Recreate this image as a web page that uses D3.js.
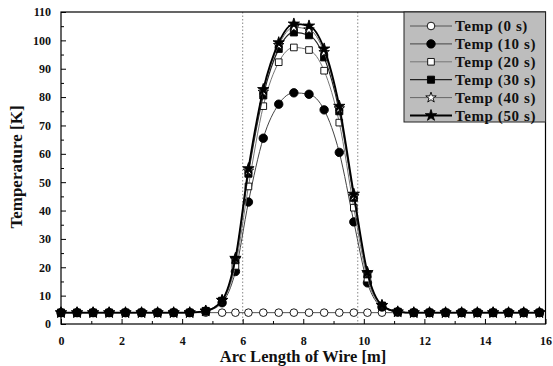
<!DOCTYPE html>
<html lang="en">
<head>
  <meta charset="UTF-8">
  <title>Temperature along wire</title>
  <script src="https://cdn.jsdelivr.net/npm/d3@7"></script>
  <style>
    body { margin: 0; background: #fff; }
    svg text { font-family: "Liberation Serif", "Times New Roman", serif; font-weight: bold; fill: #111; }
  </style>
</head>
<body>
<script>
  // node positions along the wire [m]
  const xNodes = [0, 0.53, 1.06, 1.59, 2.13, 2.66, 3.19, 3.72, 4.25, 4.78, 5.32, 5.76, 6.19, 6.68, 7.19, 7.69,
                  8.19, 8.69, 9.19, 9.67, 10.12, 10.6, 11.12, 11.65, 12.17, 12.7, 13.23, 13.75, 14.27, 14.78, 15.28, 15.8];

  const temp0  = [4,4,4,4,4,4,4,4,4, 4,4,4,4,4,4,4,4,4,4,4,4,4,4, 4,4,4,4,4,4,4,4,4];
  const temp10 = [4,4,4,4,4,4,4,4,4, 4.5,7.5,18.5,43,65.5,77.5,81.5,81,75.5,60.5,36,14.5,6,4.3, 4,4,4,4,4,4,4,4,4];
  const temp20 = [4,4,4,4,4,4,4,4,4, 4.6,8,20.5,48.5,76.8,92.3,97.5,96.6,89.3,71,41,16,6.3,4.3, 4,4,4,4,4,4,4,4,4];
  const temp30 = [4,4,4,4,4,4,4,4,4, 4.6,8.2,22.5,53,80.6,97,102.8,101.8,94,75,44.5,17.5,6.5,4.3, 4,4,4,4,4,4,4,4,4];
  const temp40 = [4,4,4,4,4,4,4,4,4, 4.6,8.3,22.8,54,81.8,98.3,104.6,103.8,95.8,76,45,17.8,6.5,4.3, 4,4,4,4,4,4,4,4,4];
  const temp50 = [4,4,4,4,4,4,4,4,4, 4.6,8.4,23.2,54.8,82.7,99.2,105.8,105.1,97,76.8,45.8,18.2,6.6,4.3, 4,4,4,4,4,4,4,4,4];

  const seriesNames = ["Temp (0 s)", "Temp (10 s)", "Temp (20 s)", "Temp (30 s)", "Temp (40 s)", "Temp (50 s)"];
  const xTicks = [0, 2, 4, 6, 8, 10, 12, 14, 16];
  const yTicks = [0, 10, 20, 30, 40, 50, 60, 70, 80, 90, 100, 110];
  const markLines = [6.0, 9.8];

  const w = 553, h = 366;
  const pLeft = 61, pRight = 545.5, pTop = 12, pBottom = 324;

  const series = [
    { name: seriesNames[0], values: temp0,  sym: d3.symbolCircle, size: 46, fill: "#fff", line: "#555", lw: 1 },
    { name: seriesNames[1], values: temp10, sym: d3.symbolCircle, size: 56, fill: "#000", line: "#444", lw: 1 },
    { name: seriesNames[2], values: temp20, sym: d3.symbolSquare, size: 44, fill: "#fff", line: "#777", lw: 1 },
    { name: seriesNames[3], values: temp30, sym: d3.symbolSquare, size: 50, fill: "#000", line: "#222", lw: 1.2 },
    { name: seriesNames[4], values: temp40, sym: d3.symbolStar,   size: 34, fill: "#fff", line: "#666", lw: 1 },
    { name: seriesNames[5], values: temp50, sym: d3.symbolStar,   size: 40, fill: "#000", line: "#000", lw: 1.8 }
  ];

  const xScale = d3.scaleLinear().domain([0, 16]).range([pLeft, pRight]);
  const yScale = d3.scaleLinear().domain([0, 110]).range([pBottom, pTop]);

  const svg = d3.select("body").append("svg")
                .attr("width", w)
                .attr("height", h);

  // dotted markers of the heated zone
  svg.selectAll("line.zone")
     .data(markLines)
     .enter()
     .append("line")
     .attr("class", "zone")
     .attr("x1", d => xScale(d)).attr("x2", d => xScale(d))
     .attr("y1", pTop).attr("y2", pBottom)
     .attr("stroke", "#888")
     .attr("stroke-width", 1)
     .attr("stroke-dasharray", "1.5,2");

  const line = d3.line()
                 .x((d, i) => xScale(xNodes[i]))
                 .y(d => yScale(d))
                 .curve(d3.curveMonotoneX);

  series.forEach(s => {
    const g = svg.append("g");
    g.append("path")
     .attr("d", line(s.values))
     .attr("fill", "none")
     .attr("stroke", s.line)
     .attr("stroke-width", s.lw);
    g.selectAll("path.pt")
     .data(s.values)
     .enter()
     .append("path")
     .attr("class", "pt")
     .attr("d", d3.symbol().type(s.sym).size(s.size))
     .attr("transform", (d, i) => `translate(${xScale(xNodes[i])},${yScale(d)})`)
     .attr("fill", s.fill)
     .attr("stroke", "#000")
     .attr("stroke-width", 0.9);
  });

  // frame
  svg.append("rect")
     .attr("x", pLeft).attr("y", pTop)
     .attr("width", pRight - pLeft).attr("height", pBottom - pTop)
     .attr("fill", "none")
     .attr("stroke", "#000")
     .attr("stroke-width", 1.2);

  // axes, ticks pointing inward
  const xAxis = d3.axisBottom(xScale).tickValues(xTicks).tickSize(-5).tickPadding(12).tickFormat(d => String(d));
  const xMinor = d3.axisBottom(xScale).tickValues(d3.range(1, 16, 2)).tickSize(-3).tickFormat("");
  const yAxis = d3.axisLeft(yScale).tickValues(yTicks).tickSize(-5).tickPadding(10).tickFormat(d => String(d));
  const yMinor = d3.axisLeft(yScale).tickValues(d3.range(5, 110, 10)).tickSize(-3).tickFormat("");

  svg.append("g").attr("transform", `translate(0,${pBottom})`).call(xAxis);
  svg.append("g").attr("transform", `translate(0,${pBottom})`).call(xMinor);
  svg.append("g").attr("transform", `translate(${pLeft},0)`).call(yAxis);
  svg.append("g").attr("transform", `translate(${pLeft},0)`).call(yMinor);

  svg.selectAll(".domain").remove();
  svg.selectAll(".tick text")
     .attr("font-size", 12)
     .style("font-family", "'Liberation Serif', serif")
     .style("font-weight", "bold");

  svg.append("text")
     .attr("x", 303).attr("y", 362)
     .attr("text-anchor", "middle")
     .attr("font-size", 16.5)
     .text("Arc Length of Wire [m]");

  svg.append("text")
     .attr("transform", "translate(22,167) rotate(-90)")
     .attr("text-anchor", "middle")
     .attr("font-size", 17)
     .text("Temperature [K]");

  // legend
  const legend = svg.append("g");
  legend.append("rect")
        .attr("x", 404).attr("y", pTop)
        .attr("width", pRight - 404).attr("height", 110)
        .attr("fill", "#bdbdbd")
        .attr("stroke", "#222")
        .attr("stroke-width", 1);

  const rows = legend.selectAll("g.row")
                     .data(series)
                     .enter()
                     .append("g")
                     .attr("class", "row")
                     .attr("transform", (d, i) => `translate(0,${26 + i * 17.9})`);
  rows.append("line")
      .attr("x1", 410).attr("x2", 452)
      .attr("stroke", d => d.line)
      .attr("stroke-width", d => d.lw);
  rows.append("path")
      .attr("d", d => d3.symbol().type(d.sym).size(d.size)())
      .attr("transform", "translate(431,0)")
      .attr("fill", d => d.fill)
      .attr("stroke", "#000")
      .attr("stroke-width", 0.9);
  rows.append("text")
      .attr("x", 455).attr("y", 5)
      .attr("font-size", 15)
      .attr("letter-spacing", 0.6)
      .text(d => d.name);
</script>
</body>
</html>
